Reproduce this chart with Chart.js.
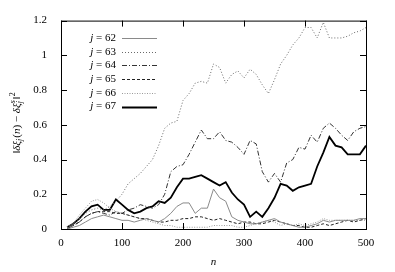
<!DOCTYPE html>
<html>
<head>
<meta charset="utf-8">
<script src="https://cdn.jsdelivr.net/npm/chart.js@4/dist/chart.umd.min.js"></script>
<style>
  body { margin: 0; background: #fff; }
  #wrap { width: 395px; height: 272px; }
</style>
</head>
<body>
<div id="wrap"><canvas id="plot" width="395" height="272"></canvas></div>
<script>
// n values (sampled every 10 steps)
const steps = [10, 20, 30, 40, 50, 60, 70, 80, 90, 100,
  110, 120, 130, 140, 150, 160, 170, 180, 190, 200,
  210, 220, 230, 240, 250, 260, 270, 280, 290, 300,
  310, 320, 330, 340, 350, 360, 370, 380, 390, 400,
  410, 420, 430, 440, 450, 460, 470, 480, 490, 500]

const j62 = [0.00, 0.01, 0.02, 0.04, 0.06, 0.07, 0.08, 0.07, 0.06, 0.05,
  0.05, 0.04, 0.05, 0.06, 0.05, 0.04, 0.06, 0.09, 0.13, 0.15,
  0.15, 0.09, 0.12, 0.12, 0.23, 0.18, 0.16, 0.07, 0.05, 0.04,
  0.03, 0.03, 0.04, 0.05, 0.06, 0.04, 0.03, 0.02, 0.01, 0.01,
  0.02, 0.03, 0.05, 0.04, 0.05, 0.05, 0.05, 0.05, 0.06, 0.06]
const j63 = [0.01, 0.03, 0.06, 0.09, 0.11, 0.12, 0.11, 0.13, 0.16, 0.20,
  0.26, 0.29, 0.32, 0.36, 0.40, 0.48, 0.58, 0.61, 0.62, 0.74,
  0.78, 0.84, 0.85, 0.84, 0.95, 0.93, 0.84, 0.89, 0.91, 0.87,
  0.92, 0.89, 0.83, 0.78, 0.86, 0.95, 1.00, 1.06, 1.10, 1.16,
  1.16, 1.10, 1.19, 1.10, 1.10, 1.10, 1.11, 1.13, 1.14, 1.16]
const j64 = [0.00, 0.02, 0.04, 0.07, 0.09, 0.10, 0.09, 0.08, 0.10, 0.09,
  0.11, 0.12, 0.14, 0.13, 0.12, 0.14, 0.20, 0.33, 0.36, 0.37,
  0.43, 0.50, 0.57, 0.52, 0.52, 0.56, 0.51, 0.50, 0.47, 0.43,
  0.51, 0.49, 0.33, 0.27, 0.32, 0.27, 0.38, 0.40, 0.47, 0.46,
  0.54, 0.50, 0.58, 0.61, 0.58, 0.54, 0.51, 0.56, 0.58, 0.59]
const j65 = [0.00, 0.02, 0.04, 0.07, 0.09, 0.10, 0.10, 0.10, 0.09, 0.09,
  0.08, 0.07, 0.06, 0.06, 0.05, 0.04, 0.04, 0.05, 0.05, 0.06,
  0.06, 0.07, 0.07, 0.06, 0.05, 0.06, 0.05, 0.04, 0.03, 0.04,
  0.04, 0.03, 0.03, 0.04, 0.05, 0.04, 0.03, 0.02, 0.02, 0.01,
  0.01, 0.02, 0.03, 0.02, 0.03, 0.04, 0.05, 0.04, 0.05, 0.06]
const j66 = [0.01, 0.03, 0.08, 0.12, 0.16, 0.17, 0.15, 0.12, 0.10, 0.09,
  0.08, 0.07, 0.06, 0.05, 0.04, 0.03, 0.02, 0.02, 0.01, 0.01,
  0.01, 0.01, 0.01, 0.01, 0.02, 0.02, 0.02, 0.02, 0.01, 0.01,
  0.02, 0.03, 0.04, 0.05, 0.04, 0.02, 0.03, 0.02, 0.03, 0.02,
  0.03, 0.04, 0.06, 0.05, 0.05, 0.05, 0.05, 0.05, 0.05, 0.05]
const j67 = [0.01, 0.03, 0.06, 0.10, 0.13, 0.14, 0.11, 0.11, 0.17, 0.14,
  0.11, 0.09, 0.10, 0.12, 0.13, 0.16, 0.15, 0.18, 0.24, 0.29,
  0.29, 0.30, 0.31, 0.29, 0.27, 0.25, 0.27, 0.21, 0.17, 0.14,
  0.07, 0.10, 0.07, 0.12, 0.18, 0.26, 0.25, 0.22, 0.24, 0.25,
  0.26, 0.36, 0.44, 0.53, 0.48, 0.47, 0.43, 0.43, 0.43, 0.48]

const seriesNames = ['62', '63', '64', '65', '66', '67']
const xTicks = [0, 100, 200, 300, 400, 500]
const yTicks = [0, 0.2, 0.4, 0.6, 0.8, 1, 1.2]

const SERIF = '"Liberation Serif", "DejaVu Serif", serif'

function pts(arr) {
  return steps.map((n, i) => ({x: n, y: arr[i]}))
}

let styles = [
  {borderColor: '#8a8a8a', borderWidth: 1, borderDash: []},
  {borderColor: '#6a6a6a', borderWidth: 1, borderDash: [1, 2]},
  {borderColor: '#333333', borderWidth: 1, borderDash: [5, 2, 1, 2]},
  {borderColor: '#222222', borderWidth: 1, borderDash: [3, 2]},
  {borderColor: '#9a9a9a', borderWidth: 1, borderDash: [1, 1.5]},
  {borderColor: '#000000', borderWidth: 1.8, borderDash: []}
]
let allData = [j62, j63, j64, j65, j66, j67]

let datasets = allData.map((arr, i) => Object.assign({
  label: 'j = ' + seriesNames[i],
  data: pts(arr),
  pointRadius: 0,
  tension: 0,
  fill: false
}, styles[i]))

// frame, inward ticks on all sides, legend, axis titles
const decor = {
  id: 'decor',
  afterDraw(chart) {
    const ctx = chart.ctx
    const a = chart.chartArea
    const xs = chart.scales.x, ys = chart.scales.y
    ctx.save()
    ctx.strokeStyle = '#000'
    ctx.lineWidth = 1
    ctx.setLineDash([])
    ctx.strokeRect(a.left + 0.5, a.top + 0.5, a.right - a.left, a.bottom - a.top)
    ctx.beginPath()
    xTicks.forEach(v => {
      let px = Math.round(xs.getPixelForValue(v)) + 0.5
      ctx.moveTo(px, a.bottom); ctx.lineTo(px, a.bottom - 6)
      ctx.moveTo(px, a.top); ctx.lineTo(px, a.top + 6)
    })
    yTicks.forEach(v => {
      let py = Math.round(ys.getPixelForValue(v)) + 0.5
      ctx.moveTo(a.left, py); ctx.lineTo(a.left + 6, py)
      ctx.moveTo(a.right, py); ctx.lineTo(a.right - 6, py)
    })
    ctx.stroke()

    // legend
    ctx.textBaseline = 'middle'
    chart.data.datasets.forEach((ds, i) => {
      let y = 38 + i * 13.7
      ctx.fillStyle = '#000'
      ctx.font = '11px ' + SERIF
      ctx.textAlign = 'right'
      let rest = ' = ' + seriesNames[i]
      ctx.fillText(rest, 116, y)
      let w = ctx.measureText(rest).width
      ctx.font = 'italic 11px ' + SERIF
      ctx.fillText('j', 116 - w, y)
      ctx.strokeStyle = ds.borderColor
      ctx.lineWidth = ds.borderWidth
      ctx.setLineDash(ds.borderDash)
      ctx.beginPath()
      ctx.moveTo(122, Math.round(y) + 0.5)
      ctx.lineTo(157, Math.round(y) + 0.5)
      ctx.stroke()
    })
    ctx.setLineDash([])

    // x title
    ctx.fillStyle = '#000'
    ctx.font = 'italic 11px ' + SERIF
    ctx.textAlign = 'center'
    ctx.fillText('n', (a.left + a.right) / 2, 262)

    // y title: ‖δξ_j(n) − δξ_j^s‖²
    const parts = [
      {t: '‖', it: false}, {t: 'δξ', it: true}, {t: 'j', it: true, sub: true},
      {t: '(', it: false}, {t: 'n', it: true}, {t: ')', it: false},
      {t: ' − ', it: false}, {t: 'δξ', it: true}, {t: 'j', it: true, sub: true, sup2: 's'},
      {t: '‖', it: false}, {t: '2', it: false, sup: true}
    ]
    const fnt = p => (p.it ? 'italic ' : '') + ((p.sub || p.sup) ? '8px ' : '11px ') + SERIF
    let total = 0
    parts.forEach(p => {
      ctx.font = fnt(p)
      let w = ctx.measureText(p.t).width
      if (p.sup2) { ctx.font = 'italic 8px ' + SERIF; w = Math.max(w, ctx.measureText(p.sup2).width) }
      p.w = w + (p.sub ? 1 : 0)
      total += p.w
    })
    ctx.translate(17, 123)
    ctx.rotate(-Math.PI / 2)
    ctx.textAlign = 'left'
    let x = -total / 2
    parts.forEach(p => {
      ctx.font = fnt(p)
      let dy = p.sub ? 3 : (p.sup ? -4 : 0)
      ctx.fillText(p.t, x, dy)
      if (p.sup2) { ctx.font = 'italic 8px ' + SERIF; ctx.fillText(p.sup2, x, -4) }
      x += p.w
    })
    ctx.restore()
  }
}

new Chart(document.getElementById('plot').getContext('2d'), {
  type: 'line',
  data: {datasets: datasets},
  options: {
    responsive: false,
    animation: false,
    layout: {padding: {top: 15, right: 29, left: 0, bottom: 0}},
    plugins: {legend: {display: false}, tooltip: {enabled: false}},
    scales: {
      x: {
        type: 'linear', min: 0, max: 500,
        grid: {display: false, drawTicks: false},
        border: {display: false},
        afterFit: s => { s.height = 43 },
        afterBuildTicks: s => { s.ticks = xTicks.map(v => ({value: v})) },
        ticks: {color: '#000', padding: 8, maxRotation: 0, font: {family: SERIF, size: 11},
          callback: v => String(v)}
      },
      y: {
        min: 0, max: 1.2,
        grid: {display: false, drawTicks: false},
        border: {display: false},
        afterFit: s => { s.width = 61 },
        afterBuildTicks: s => { s.ticks = yTicks.map(v => ({value: v})) },
        ticks: {color: '#000', padding: 14, font: {family: SERIF, size: 11},
          callback: v => String(v)}
      }
    }
  },
  plugins: [decor]
})
</script>
</body>
</html>
